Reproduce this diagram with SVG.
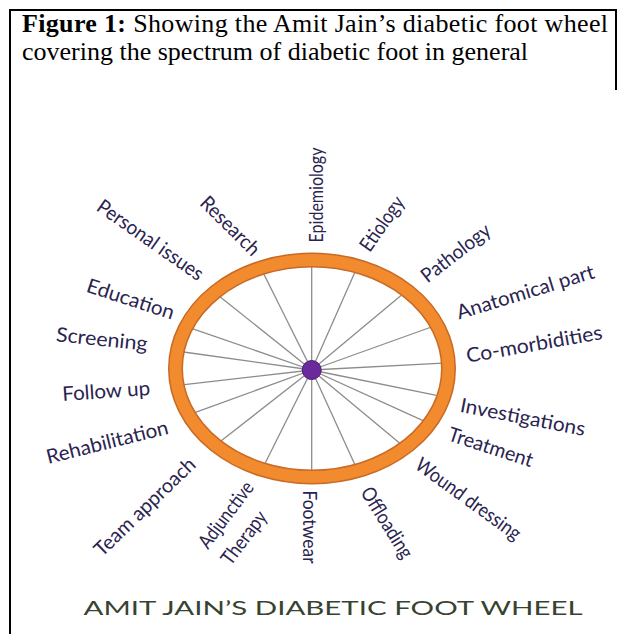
<svg xmlns="http://www.w3.org/2000/svg" width="625" height="634" viewBox="0 0 625 634">
<style>
.cap{font-family:"Liberation Serif","Times New Roman",serif;font-size:26px;fill:#000}
.lbl{font-family:Lato,"Open Sans",sans-serif;font-size:20px;fill:#2a2450;text-anchor:middle;dominant-baseline:central}
.spoke{stroke:#8c8c8c;stroke-width:1.3}
.title{font-family:Lato,"Open Sans",sans-serif;font-size:20px;fill:#37432f;text-anchor:middle}
</style>
<rect width="625" height="634" fill="#fff"/>
<g id="frame" stroke="#000" stroke-width="2" fill="none">
<line x1="10" y1="10" x2="617" y2="10"/>
<line x1="10" y1="9" x2="10" y2="634"/>
<line x1="616" y1="9" x2="616" y2="90"/>
</g>
<g id="caption">
<text class="cap" x="22" y="32" textLength="586"><tspan font-weight="bold">Figure 1:</tspan> Showing the Amit Jain’s diabetic foot wheel</text>
<text class="cap" x="22" y="60">covering the spectrum of diabetic foot in general</text>
</g>
<g id="connectors">
<line class="spoke" x1="311.7" y1="370" x2="311.7" y2="264"/>
<line class="spoke" x1="311.7" y1="370" x2="355" y2="272"/>
<line class="spoke" x1="311.7" y1="370" x2="401" y2="295.5"/>
<line class="spoke" x1="311.7" y1="370" x2="430" y2="327.5"/>
<line class="spoke" x1="311.7" y1="370" x2="443" y2="363.2"/>
<line class="spoke" x1="311.7" y1="370" x2="436.5" y2="395.3"/>
<line class="spoke" x1="311.7" y1="370" x2="423" y2="420.6"/>
<line class="spoke" x1="311.7" y1="370" x2="401" y2="444.2"/>
<line class="spoke" x1="311.7" y1="370" x2="355.5" y2="466"/>
<line class="spoke" x1="311.7" y1="370" x2="311.7" y2="475"/>
<line class="spoke" x1="311.7" y1="370" x2="264.5" y2="464.5"/>
<line class="spoke" x1="311.7" y1="370" x2="219" y2="442.5"/>
<line class="spoke" x1="311.7" y1="370" x2="192" y2="413.7"/>
<line class="spoke" x1="311.7" y1="370" x2="180" y2="385.2"/>
<line class="spoke" x1="311.7" y1="370" x2="180" y2="351.5"/>
<line class="spoke" x1="311.7" y1="370" x2="190" y2="327.8"/>
<line class="spoke" x1="311.7" y1="370" x2="219" y2="296"/>
<line class="spoke" x1="311.7" y1="370" x2="262.8" y2="272"/>
</g>
<g id="wheel">
<ellipse cx="312" cy="368.5" rx="136.5" ry="108.5" fill="none" stroke="#c86a26" stroke-width="15"/>
<ellipse cx="312" cy="368.5" rx="136.5" ry="108.5" fill="none" stroke="#f28a2e" stroke-width="12"/>
<circle id="hub" cx="311.7" cy="370" r="9.5" fill="#6b2a9c" stroke="#4b1c72" stroke-width="1"/>
</g>
<g id="n-epidemiology"><text class="lbl" transform="translate(315,195) rotate(-90)" textLength="95" lengthAdjust="spacingAndGlyphs">Epidemiology</text></g>
<g id="n-etiology"><text class="lbl" transform="translate(381,223) rotate(-55)" textLength="62" lengthAdjust="spacingAndGlyphs">Etiology</text></g>
<g id="n-pathology"><text class="lbl" transform="translate(455,252) rotate(-38)" textLength="82" lengthAdjust="spacingAndGlyphs">Pathology</text></g>
<g id="n-anatomical"><text class="lbl" transform="translate(525,291) rotate(-17)" textLength="143" lengthAdjust="spacingAndGlyphs">Anatomical part</text></g>
<g id="n-comorbidities"><text class="lbl" transform="translate(534,343) rotate(-10)" textLength="138" lengthAdjust="spacingAndGlyphs">Co-morbidities</text></g>
<g id="n-investigations"><text class="lbl" transform="translate(523,416) rotate(11)" textLength="127" lengthAdjust="spacingAndGlyphs">Investigations</text></g>
<g id="n-treatment"><text class="lbl" transform="translate(491,446) rotate(18)" textLength="88" lengthAdjust="spacingAndGlyphs">Treatment</text></g>
<g id="n-wound"><text class="lbl" transform="translate(469,498) rotate(36)" textLength="125" lengthAdjust="spacingAndGlyphs">Wound dressing</text></g>
<g id="n-offloading"><text class="lbl" transform="translate(388,522) rotate(58)" textLength="80" lengthAdjust="spacingAndGlyphs">Offloading</text></g>
<g id="n-footwear"><text class="lbl" transform="translate(311,527) rotate(90)" textLength="73" lengthAdjust="spacingAndGlyphs">Footwear</text></g>
<g id="n-adjunctive"><text class="lbl" transform="translate(225,514) rotate(-53)" textLength="78" lengthAdjust="spacingAndGlyphs">Adjunctive</text><text class="lbl" transform="translate(243,537) rotate(-53)" textLength="62" lengthAdjust="spacingAndGlyphs">Therapy</text></g>
<g id="n-team"><text class="lbl" transform="translate(144,506) rotate(-44)" textLength="132" lengthAdjust="spacingAndGlyphs">Team approach</text></g>
<g id="n-rehab"><text class="lbl" transform="translate(107,441) rotate(-14)" textLength="125" lengthAdjust="spacingAndGlyphs">Rehabilitation</text></g>
<g id="n-followup"><text class="lbl" transform="translate(106,390) rotate(-4)" textLength="88" lengthAdjust="spacingAndGlyphs">Follow up</text></g>
<g id="n-screening"><text class="lbl" transform="translate(102,338) rotate(6)" textLength="92" lengthAdjust="spacingAndGlyphs">Screening</text></g>
<g id="n-education"><text class="lbl" transform="translate(131,298) rotate(18)" textLength="91" lengthAdjust="spacingAndGlyphs">Education</text></g>
<g id="n-personal"><text class="lbl" transform="translate(151,239) rotate(35)" textLength="125" lengthAdjust="spacingAndGlyphs">Personal issues</text></g>
<g id="n-research"><text class="lbl" transform="translate(231,225) rotate(45)" textLength="75" lengthAdjust="spacingAndGlyphs">Research</text></g>
<g id="wheel-title"><text class="title" x="333" y="615" textLength="499" lengthAdjust="spacingAndGlyphs">AMIT JAIN’S DIABETIC FOOT WHEEL</text></g>
</svg>
